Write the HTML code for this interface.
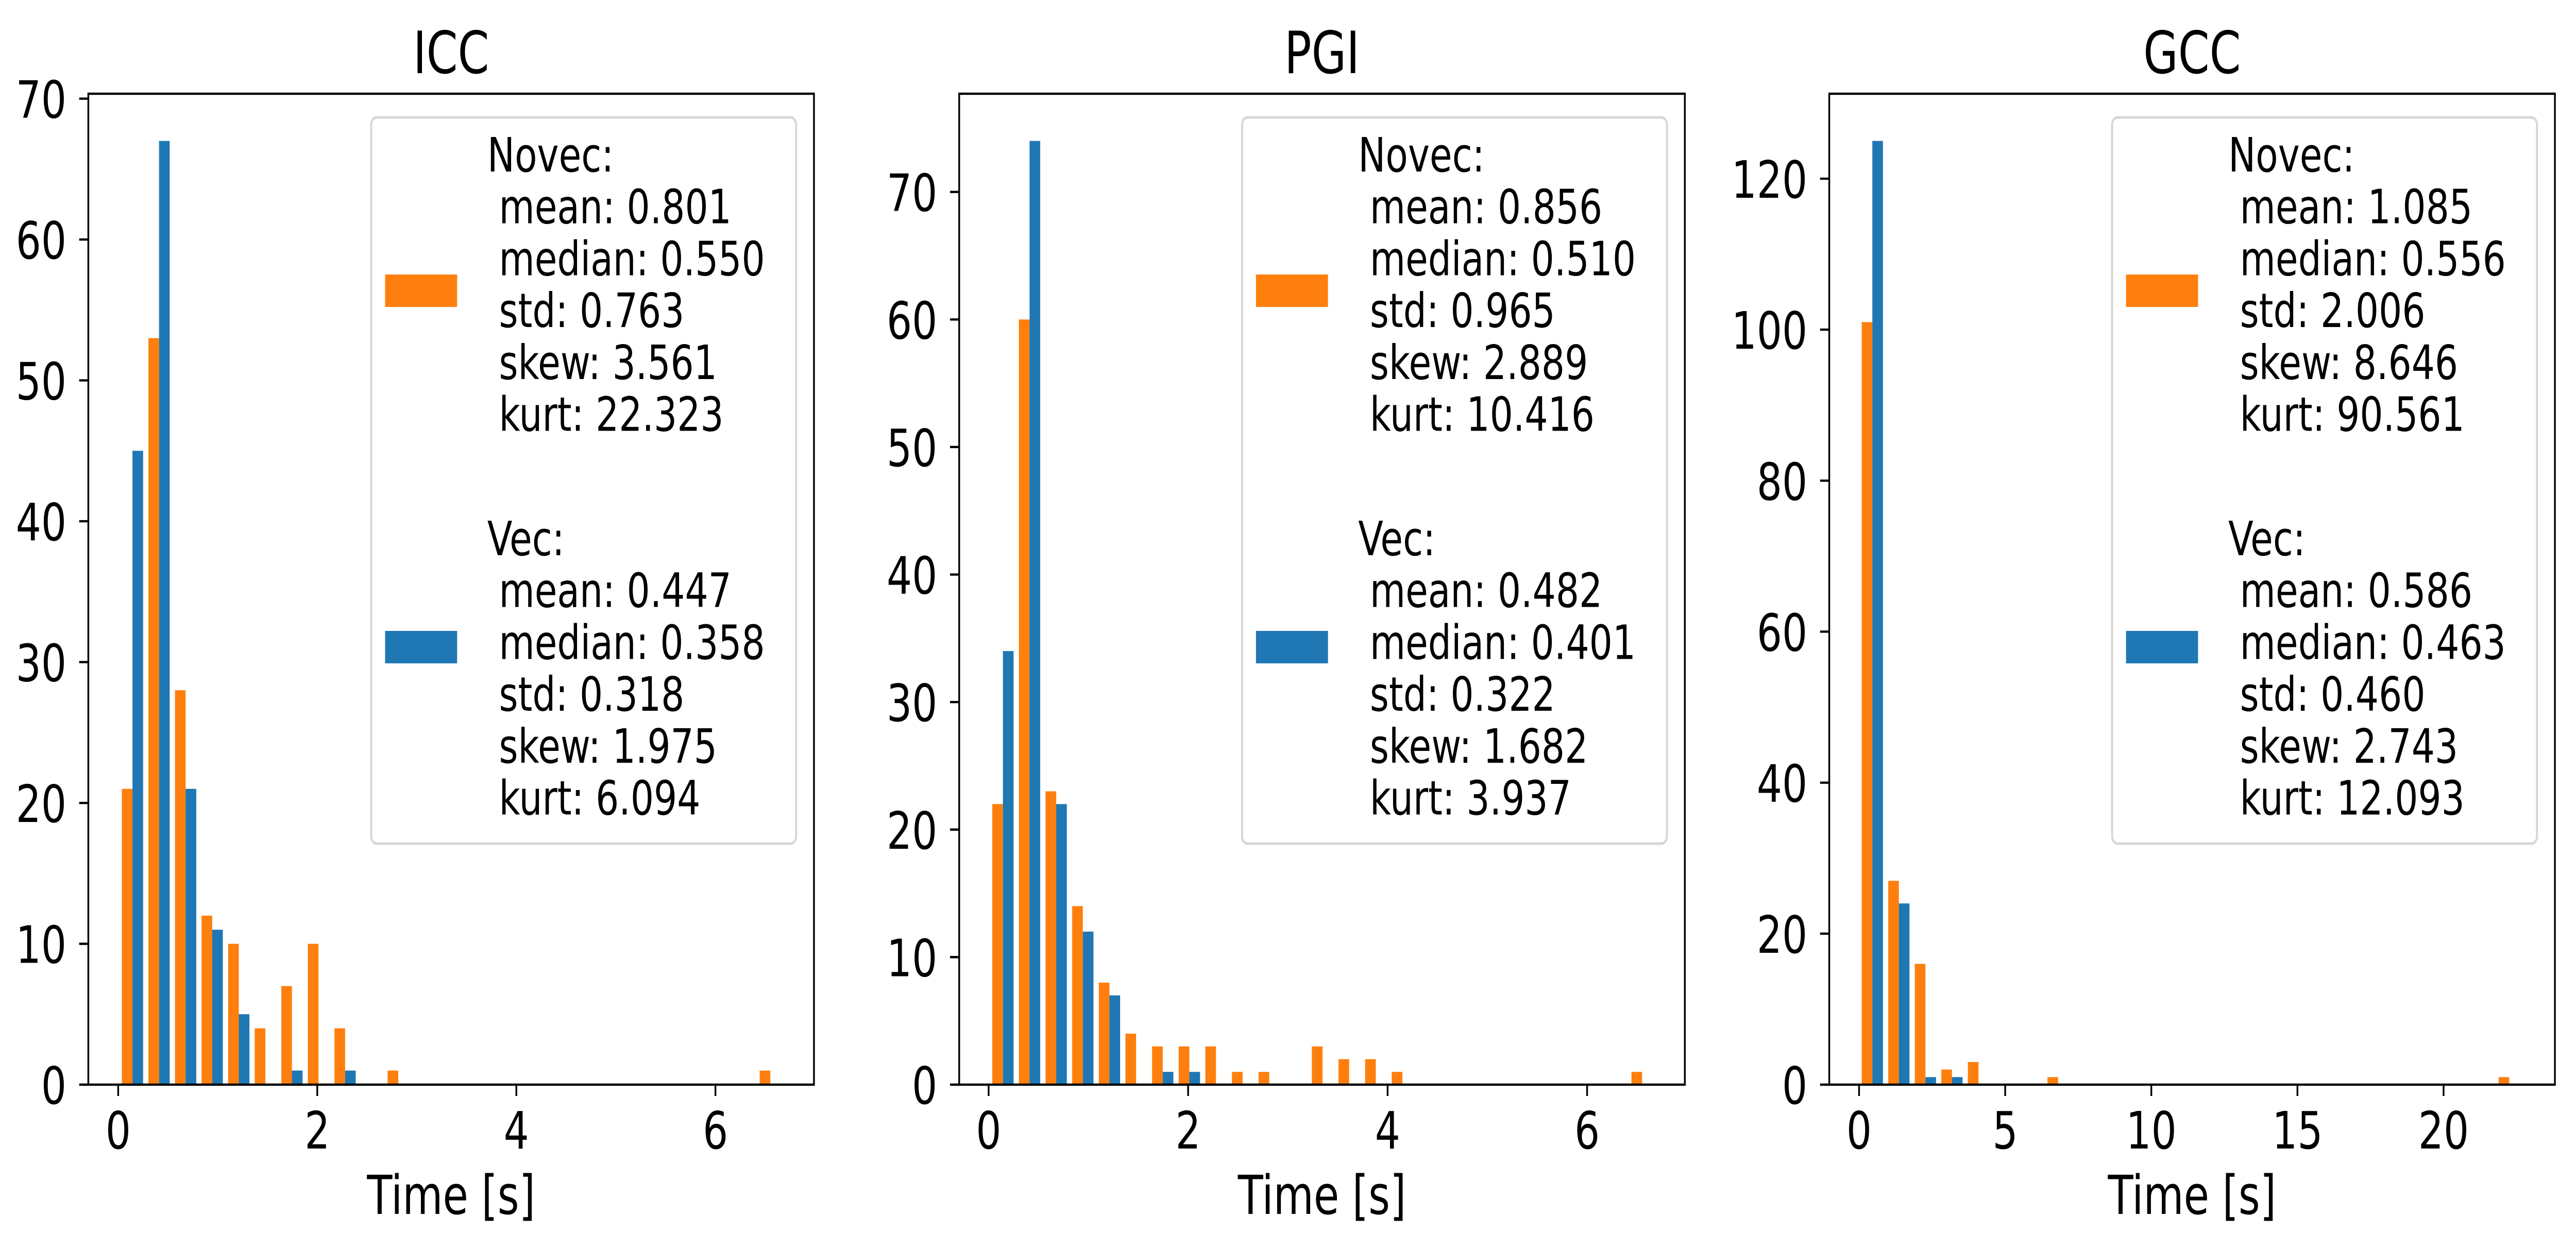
<!DOCTYPE html>
<html>
<head>
<meta charset="utf-8">
<style>
  html,body{margin:0;padding:0;background:#fff;overflow:hidden;width:100vw;height:100vh;}
  svg{display:block;width:100vw;height:100vh;}
  text{font-family:"DejaVu Sans","Liberation Sans",sans-serif;fill:#000;}
  .leg{font-size:92px;white-space:pre;}
</style>
</head>
<body>
<svg id="fig" viewBox="0 0 6475 2429" preserveAspectRatio="none" xmlns="http://www.w3.org/2000/svg">
  <rect x="0" y="0" width="6475" height="2429" fill="#ffffff"/>
</svg>
<script>
// ---- data ----
const panelTitles = ["ICC", "PGI", "GCC"];
const binLo = [0.01, 0.01, 0.0];
const binHi = [6.685, 6.685, 22.7];
const xLimLo = [-0.30, -0.295, -1.02];
const xLimHi = [6.99, 6.98, 23.81];
const yLimHi = [70.35, 77.7, 131.25];
const xTicks = [[0, 2, 4, 6], [0, 2, 4, 6], [0, 5, 10, 15, 20]];
const yTicks = [[0,10,20,30,40,50,60,70],[0,10,20,30,40,50,60,70],[0,20,40,60,80,100,120]];

const iccNovec = [21,53,28,12,10,4,7,10,4,0,1,0,0,0,0,0,0,0,0,0,0,0,0,0,1];
const iccVec   = [45,67,21,11,5,0,1,0,1,0,0,0,0,0,0,0,0,0,0,0,0,0,0,0,0];
const pgiNovec = [22,60,23,14,8,4,3,3,3,1,1,0,3,2,2,1,0,0,0,0,0,0,0,0,1];
const pgiVec   = [34,74,22,12,7,0,1,1,0,0,0,0,0,0,0,0,0,0,0,0,0,0,0,0,0];
const gccNovec = [101,27,16,2,3,0,0,1,0,0,0,0,0,0,0,0,0,0,0,0,0,0,0,0,1];
const gccVec   = [125,24,1,1,0,0,0,0,0,0,0,0,0,0,0,0,0,0,0,0,0,0,0,0,0];

const novecStats = [
  ["0.801","0.550","0.763","3.561","22.323"],
  ["0.856","0.510","0.965","2.889","10.416"],
  ["1.085","0.556","2.006","8.646","90.561"]
];
const vecStats = [
  ["0.447","0.358","0.318","1.975","6.094"],
  ["0.482","0.401","0.322","1.682","3.937"],
  ["0.586","0.463","0.460","2.743","12.093"]
];
const novecSeries = [iccNovec, pgiNovec, gccNovec];
const vecSeries = [iccVec, pgiVec, gccVec];

// ---- layout ----
const NS = "http://www.w3.org/2000/svg";
const svg = document.getElementById("fig");
const axLeft = [222, 2411, 4598];
const axW = 1824, axTop = 182, axBottom = 2106;
const ORANGE = "#ff7f0e", BLUE = "#1f77b4";

function mk(tag, attrs, parent) {
  const e = document.createElementNS(NS, tag);
  for (const k in attrs) e.setAttribute(k, attrs[k]);
  (parent || svg).appendChild(e);
  return e;
}

for (let p = 0; p < 3; p++) {
  const L = axLeft[p], R = L + axW;
  const g = mk("g", {});
  
  
  const sx = v => L + (v - xLimLo[p]) / (xLimHi[p] - xLimLo[p]) * axW;
  const sy = v => axBottom - v / yLimHi[p] * (axBottom - axTop);

  const nb = novecSeries[p].length;
  const bw = (binHi[p] - binLo[p]) / nb;
  for (let i = 0; i < nb; i++) {
    const b0 = binLo[p] + i * bw;
    const v1 = novecSeries[p][i], v2 = vecSeries[p][i];
    if (v1 > 0) {
      const r = mk("rect", {x: sx(b0 + 0.1*bw), y: sy(v1), width: sx(b0+0.5*bw)-sx(b0+0.1*bw), height: sy(0)-sy(v1), fill: ORANGE}, g);
      
      
    }
    if (v2 > 0) {
      const r = mk("rect", {x: sx(b0 + 0.5*bw), y: sy(v2), width: sx(b0+0.9*bw)-sx(b0+0.5*bw), height: sy(0)-sy(v2), fill: BLUE}, g);
      
      
    }
  }

  const fr = mk("rect", {x: L, y: axTop, width: axW, height: axBottom-axTop, fill: "none", stroke: "#000", "stroke-width": 4.4}, g);
  
  

  xTicks[p].forEach(t => {
    const x = sx(t);
    const tk = mk("line", {x1: x, x2: x, y1: axBottom, y2: axBottom + 22, stroke: "#000", "stroke-width": 4.4}, g);
    
    
    const tl = mk("text", {x: x, y: 2230, "text-anchor": "middle", "font-size": 100}, g);
    tl.textContent = String(t);
    
    
  });
  yTicks[p].forEach(t => {
    const y = sy(t);
    const tk = mk("line", {x1: L - 23, x2: L, y1: y, y2: y, stroke: "#000", "stroke-width": 4.4}, g);
    
    
    const tl = mk("text", {x: L - 55, y: y + 37, "text-anchor": "end", "font-size": 100}, g);
    tl.textContent = String(t);
    
    
  });

  const ti = mk("text", {x: L + axW/2, y: 142, "text-anchor": "middle", "font-size": 113}, g);
  ti.textContent = panelTitles[p];
  
  
  const xl = mk("text", {x: L + axW/2, y: 2357, "text-anchor": "middle", "font-size": 104}, g);
  xl.textContent = "Time [s]";
  
  

  const lg = mk("g", {}, g);
  
  
  const LL = R - 45 - 1068;
  const lb = mk("rect", {x: LL, y: 228, width: 1068, height: 1410, rx: 14, ry: 14, fill: "#ffffff", "fill-opacity": 0.8, stroke: "#d6d6d6", "stroke-width": 5}, lg);
  
  
  const blocks = [["Novec:", novecStats[p], ORANGE, 333, 533], ["Vec:", vecStats[p], BLUE, 1078, 1225]];
  const keys = ["mean", "median", "std", "skew", "kurt"];
  blocks.forEach((b, bi) => {
    const pt = mk("rect", {x: LL + 35, y: b[4], width: 181, height: 63, fill: b[2]}, lg);
    
    
    const tx = mk("text", {x: LL + 292, y: b[3], "class": "leg"}, lg);
    tx.textContent = b[0];
    
    
    keys.forEach((k, ki) => {
      const t2 = mk("text", {x: LL + 292, y: b[3] + 100.7*(ki+1), "class": "leg"}, lg);
      t2.textContent = " " + k + ": " + b[1][ki];
      
      
    });
  });
}
</script>
</body>
</html>
